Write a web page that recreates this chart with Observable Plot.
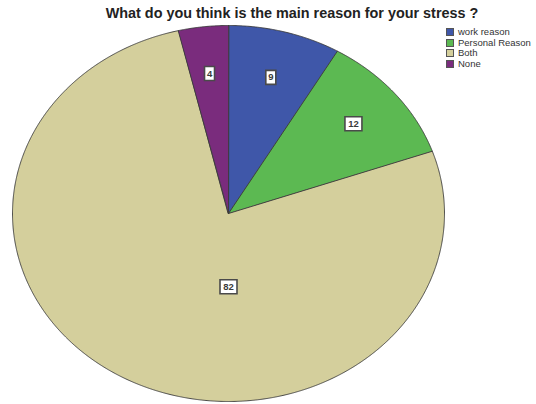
<!DOCTYPE html>
<html><head><meta charset="utf-8">
<script src="https://cdn.jsdelivr.net/npm/d3@7"></script>
<script src="https://cdn.jsdelivr.net/npm/@observablehq/plot@0.6"></script>
<style>
body{margin:0;background:#fff;}
#wrap{position:relative;width:536px;height:404px;font-family:Arial,"Liberation Sans",sans-serif;overflow:hidden;}
#title{position:absolute;left:0;top:5px;width:584px;text-align:center;font-weight:bold;font-size:14.4px;color:#222;}
#legend{position:absolute;left:446px;top:27px;font-size:9.5px;color:#333;line-height:10.5px;}
#legend .row{display:flex;align-items:center;height:10.5px;white-space:nowrap;}
#legend .sw{width:8px;height:8px;border:1px solid #555;margin-right:4px;box-sizing:border-box;}
#chart{position:absolute;left:0;top:0;}
</style></head>
<body>
<div id="wrap">
<div id="chart"></div>
<div id="title">What do you think is the main reason for your stress ?</div>
<div id="legend"></div>
</div>
<script>
const categories = ["work reason", "Personal Reason", "Both", "None"];
const counts = [9, 12, 82, 4];
const colors = ["#3F57A9", "#5CB952", "#D4CF9C", "#7A2C7D"];

const total = d3.sum(counts);
const slices = [];
let acc = 0;
categories.forEach((c, i) => {
  const a0 = acc / total * 2 * Math.PI;
  acc += counts[i];
  const a1 = acc / total * 2 * Math.PI;
  slices.push({cat: c, value: counts[i], a0, a1});
});

// polygon points for each slice (unit circle; scales stretch it into the ellipse)
const pts = [];
for (const s of slices) {
  pts.push({cat: s.cat, x: 0, y: 0});
  const n = Math.max(2, Math.ceil((s.a1 - s.a0) / 0.005));
  for (let k = 0; k <= n; k++) {
    const a = s.a0 + (s.a1 - s.a0) * k / n;
    pts.push({cat: s.cat, x: Math.sin(a), y: Math.cos(a)});
  }
}

// label placement: mid-angle for small slices, below the centre for the dominant one
const labels = slices.map(s => {
  const frac = s.value / total;
  let ang = (s.a0 + s.a1) / 2, r = 0.75;
  if (frac > 0.5) { ang = Math.PI; r = 0.39; }
  return {cat: s.cat, text: String(s.value), x: r * Math.sin(ang), y: r * Math.cos(ang), hw: String(s.value).length > 1 ? 8.5 : 5};
});

const boxSymbol = {
  draw(ctx, size) {
    const w = Math.sqrt(size / Math.PI);
    ctx.rect(-w, -7, 2 * w, 14);
  }
};

const plot = Plot.plot({
  width: 536, height: 404,
  margin: 0,
  x: {domain: [-1, 1], range: [12, 444], axis: null},
  y: {domain: [-1, 1], range: [401, 25], axis: null},
  r: {type: "identity"},
  color: {domain: categories, range: colors},
  marks: [
    Plot.line(pts, {x: "x", y: "y", z: "cat", fill: "cat", stroke: "#3a3a3a", strokeWidth: 0.9, curve: "linear-closed"}),
    Plot.dot(labels, {x: "x", y: "y", r: "hw", symbol: () => boxSymbol, fill: "white", stroke: "#4a4a4a", strokeWidth: 1.6}),
    Plot.text(labels, {x: "x", y: "y", text: "text", fill: "#3a3a3a", fontSize: 9.5, fontWeight: "bold", fontFamily: "Arial, Liberation Sans, sans-serif"})
  ]
});
document.getElementById("chart").appendChild(plot);

const lg = document.getElementById("legend");
categories.forEach((c, i) => {
  const row = document.createElement("div");
  row.className = "row";
  const sw = document.createElement("div");
  sw.className = "sw";
  sw.style.background = colors[i];
  row.appendChild(sw);
  row.appendChild(document.createTextNode(c));
  lg.appendChild(row);
});
</script>
</body></html>
